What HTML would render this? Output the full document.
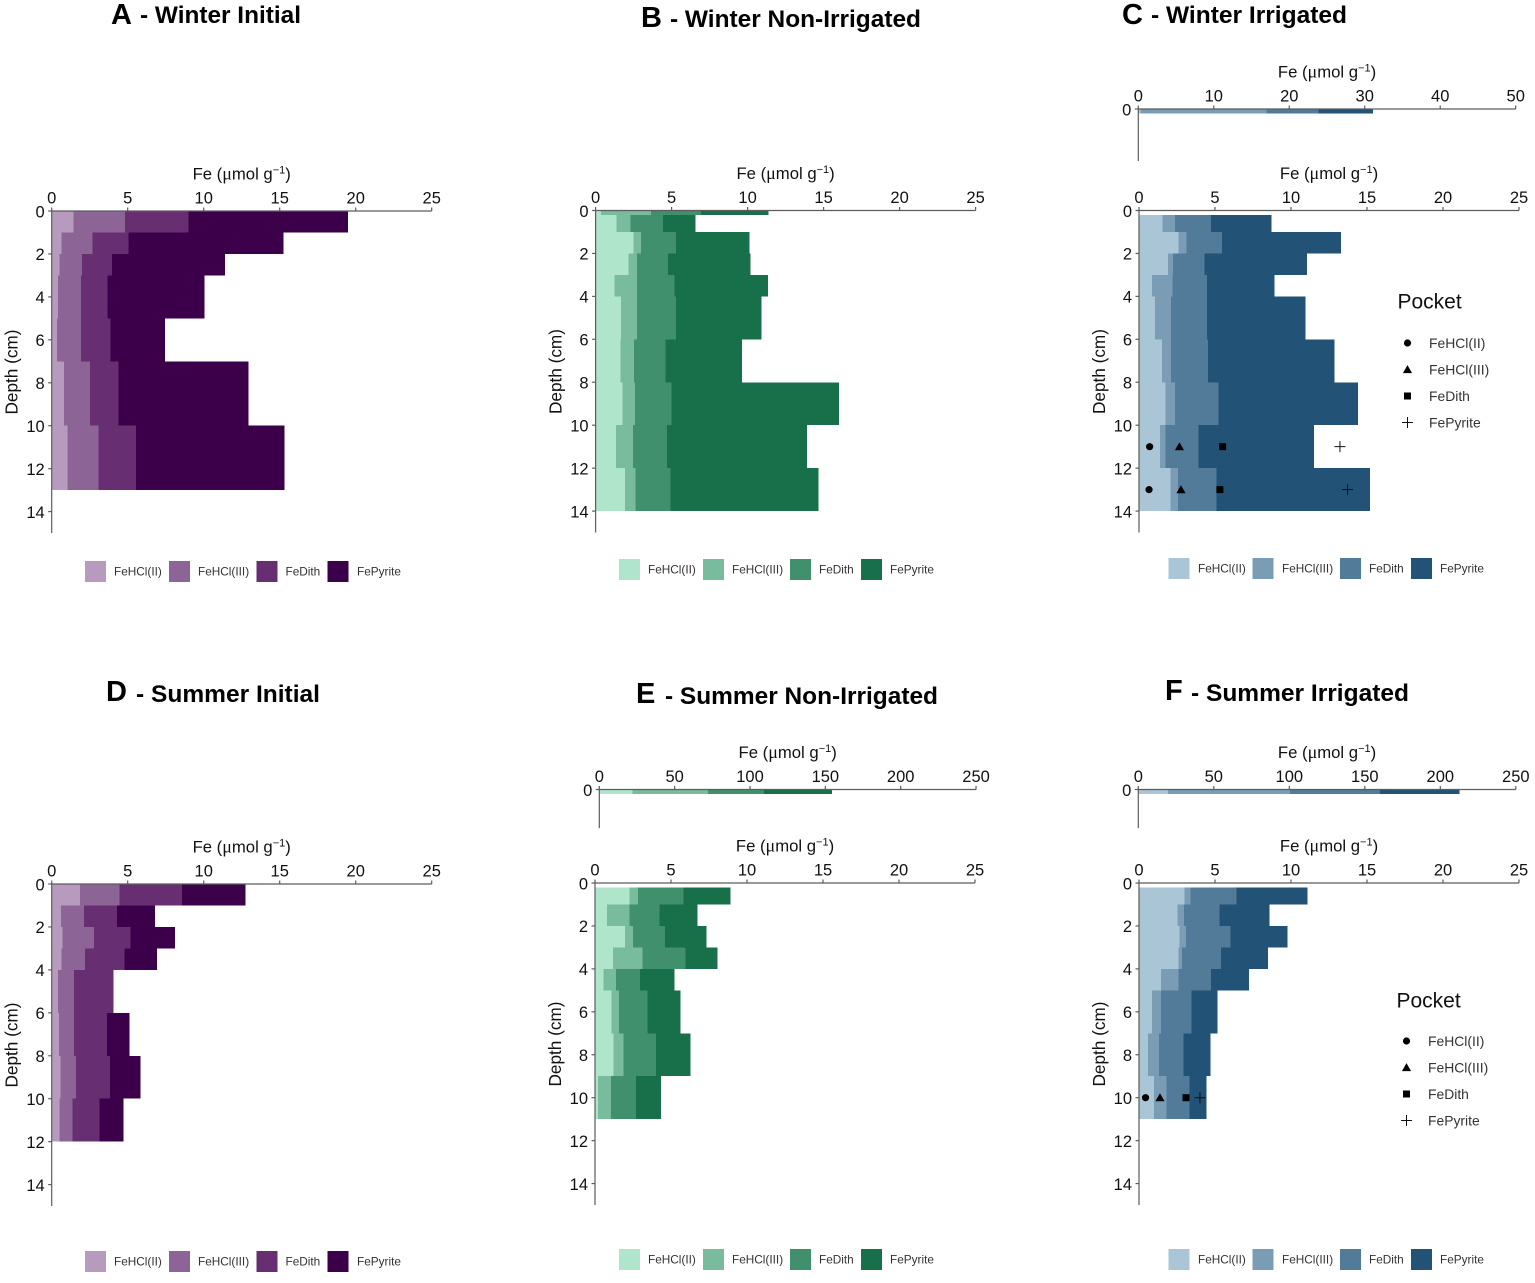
<!DOCTYPE html>
<html lang="en">
<head>
<meta charset="utf-8">
<title>Fe depth profiles</title>
<style>
html,body{margin:0;padding:0;background:#fff;}
svg{display:block;position:absolute;left:0;top:0;font-family:"Liberation Sans",Arial,sans-serif;}
.ttl{font-weight:700;fill:#000;}
</style>
</head>
<body>
<svg id="figure" xmlns="http://www.w3.org/2000/svg" width="1535" height="1283" viewBox="0 0 1535 1283">
  <rect x="0" y="0" width="1535" height="1283" fill="#ffffff"/>
  <g><text class="ttl" x="111" y="24" font-size="29">A</text><text class="ttl" x="140" y="23" font-size="24.5" textLength="161" lengthAdjust="spacingAndGlyphs">- Winter Initial</text></g>
  <g><text class="ttl" x="641" y="27" font-size="29">B</text><text class="ttl" x="670" y="27" font-size="24.5" textLength="251" lengthAdjust="spacingAndGlyphs">- Winter Non-Irrigated</text></g>
  <g><text class="ttl" x="1122" y="24" font-size="29">C</text><text class="ttl" x="1151" y="23" font-size="24.5" textLength="196" lengthAdjust="spacingAndGlyphs">- Winter Irrigated</text></g>
  <g><text class="ttl" x="106" y="701" font-size="29">D</text><text class="ttl" x="136" y="702" font-size="24.5" textLength="184" lengthAdjust="spacingAndGlyphs">- Summer Initial</text></g>
  <g><text class="ttl" x="636" y="703" font-size="29">E</text><text class="ttl" x="665" y="704" font-size="24.5" textLength="273" lengthAdjust="spacingAndGlyphs">- Summer Non-Irrigated</text></g>
  <g><text class="ttl" x="1165" y="700" font-size="29">F</text><text class="ttl" x="1191" y="701" font-size="24.5" textLength="218" lengthAdjust="spacingAndGlyphs">- Summer Irrigated</text></g>
</svg>
<script>
// ---------- shared labels ----------
const seriesLabels = ['FeHCl(II)', 'FeHCl(III)', 'FeDith', 'FePyrite'];
const xTicks25 = [0, 5, 10, 15, 20, 25];
const xTicks50 = [0, 10, 20, 30, 40, 50];
const xTicks250 = [0, 50, 100, 150, 200, 250];
const yTicksFull = [0, 2, 4, 6, 8, 10, 12, 14];
const yTicksInset = [0];

// ---------- panel A: Winter Initial ----------
const aDepths = [0, 1, 2, 3, 5, 7, 10, 13];
const aFeHClII = [1.43, 0.66, 0.5, 0.42, 0.35, 0.81, 1.05];
const aFeHClIII = [3.39, 2.02, 1.5, 1.51, 1.58, 1.71, 2.02];
const aFeDith = [4.19, 2.36, 1.97, 1.75, 1.95, 1.89, 2.46];
const aFePyrite = [10.49, 10.22, 7.43, 6.36, 3.58, 8.53, 9.8];

// ---------- panel B: Winter Non-Irrigated ----------
const bDepths = [0, 0.2, 1, 2, 3, 4, 6, 8, 10, 12, 14];
const bFeHClII = [0.35, 1.38, 2.48, 2.15, 1.23, 1.67, 1.65, 1.78, 1.34, 1.93];
const bFeHClIII = [3.29, 0.92, 0.52, 0.57, 1.49, 1.07, 0.87, 0.81, 1.12, 0.7];
const bFeDith = [3.3, 2.13, 2.29, 2.04, 2.48, 2.55, 2.07, 2.41, 2.24, 2.29];
const bFePyrite = [4.43, 2.15, 4.83, 5.44, 6.15, 5.64, 5.05, 11.0, 9.2, 9.74];

// ---------- panel C: Winter Irrigated ----------
const cInsetDepths = [0, 0.2];
const cInsetFeHClII = [0.3];
const cInsetFeHClIII = [16.7];
const cInsetFeDith = [6.9];
const cInsetFePyrite = [7.2];
const cDepths = [0.2, 1, 2, 3, 4, 6, 8, 10, 12, 14];
const cFeHClII = [1.54, 2.59, 1.91, 0.86, 1.05, 1.51, 1.73, 1.38, 2.08];
const cFeHClIII = [0.83, 0.52, 0.33, 1.33, 1.06, 0.6, 0.64, 0.37, 0.49];
const cFeDith = [2.37, 2.35, 2.08, 2.28, 2.36, 2.43, 2.87, 2.15, 2.54];
const cFePyrite = [3.99, 7.83, 6.73, 4.43, 6.49, 8.33, 9.17, 7.61, 10.09];
const cPocketDepths = [11, 13];
const cPocketFeHClII = [0.7, 0.66];
const cPocketFeHClIII = [2.66, 2.76];
const cPocketFeDith = [5.5, 5.32];
const cPocketFePyrite = [13.22, 13.72];

// ---------- panel D: Summer Initial ----------
const dDepths = [0, 1, 2, 3, 4, 6, 8, 10, 12];
const dFeHClII = [1.86, 0.61, 0.72, 0.66, 0.42, 0.48, 0.57, 0.5];
const dFeHClIII = [2.59, 1.5, 2.07, 1.53, 1.05, 0.99, 1.03, 0.86];
const dFeDith = [4.12, 2.19, 2.39, 2.61, 2.59, 2.17, 2.22, 1.8];
const dFePyrite = [4.19, 2.48, 2.93, 2.13, 0, 1.49, 2.01, 1.55];

// ---------- panel E: Summer Non-Irrigated ----------
const eInsetDepths = [0, 0.2];
const eInsetFeHClII = [21.9];
const eInsetFeHClIII = [50.2];
const eInsetFeDith = [37.2];
const eInsetFePyrite = [45.1];
const eDepths = [0.2, 1, 2, 3, 4, 5, 7, 9, 11];
const eFeHClII = [2.26, 0.79, 1.97, 1.18, 0.57, 1.1, 1.23, 0.2];
const eFeHClIII = [0.57, 1.49, 0.53, 1.93, 0.81, 0.48, 0.66, 0.85];
const eFeDith = [2.98, 1.95, 2.11, 2.85, 1.58, 1.88, 2.12, 1.65];
const eFePyrite = [3.12, 2.5, 2.74, 2.09, 2.26, 2.18, 2.26, 1.64];

// ---------- panel F: Summer Irrigated ----------
const fInsetDepths = [0, 0.2];
const fInsetFeHClII = [19.6];
const fInsetFeHClIII = [80.8];
const fInsetFeDith = [59.6];
const fInsetFePyrite = [52.6];
const fDepths = [0.2, 1, 2, 3, 4, 5, 7, 9, 11];
const fFeHClII = [2.98, 2.54, 2.68, 2.59, 1.45, 0.86, 0.59, 0.99];
const fFeHClIII = [0.42, 0.42, 0.41, 0.24, 1.16, 0.59, 0.73, 0.83];
const fFeDith = [3.03, 2.35, 2.94, 2.56, 2.13, 1.99, 1.6, 1.49];
const fFePyrite = [4.67, 3.26, 3.75, 3.1, 2.5, 1.71, 1.77, 1.12];
const fPocketDepths = [10];
const fPocketFeHClII = [0.43];
const fPocketFeHClIII = [1.38];
const fPocketFeDith = [3.09];
const fPocketFePyrite = [4.01];

// ---------- palettes ----------
const purples = ['#b79bbe', '#8c6496', '#672f72', '#3b0049'];
const greens = ['#afe5cb', '#79bb9d', '#41906d', '#18704a'];
const blues = ['#aac5d6', '#7a9db5', '#527b99', '#225376'];

const SVGNS = 'http://www.w3.org/2000/svg';
const root = document.getElementById('figure');
const AXIS = '#5c5c5c';
const INK = '#111111';

function node(parent, tag, attrs) {
  const el = document.createElementNS(SVGNS, tag);
  for (const k in attrs) el.setAttribute(k, attrs[k]);
  parent.appendChild(el);
  return el;
}

function drawBands(parent, xFn, yFn, depths, series, colors) {
  depths.slice(0, -1).forEach(function (top, i) {
    let left = 0;
    series.forEach(function (values, s) {
      const right = left + values[i];
      if (values[i] > 0) {
        const el = node(parent, 'rect', {
          x: xFn(left), y: yFn(top),
          width: xFn(right) - xFn(left),
          height: yFn(depths[i + 1]) - yFn(top),
          fill: colors[s],
          'shape-rendering': 'crispEdges'
        });
        
        
      }
      left = right;
    });
  });
}

function drawFeTitle(parent, cx, y) {
  const t = node(parent, 'text', { x: cx, y: y, 'text-anchor': 'middle', 'font-size': 16.7, fill: INK });
  
  
  const parts = [
    ['Fe (', {}],
    ['\u03BC', { 'font-family': '"Liberation Serif", serif', 'font-size': 18 }],
    ['mol g', {}],
    ['\u22121', { 'font-size': 11, dy: -6 }],
    [')', { dy: 6 }]
  ];
  parts.forEach(function (p) {
    const s = node(t, 'tspan', p[1]);
    s.textContent = p[0];
  });
}

function drawAxes(parent, xFn, yFn, xTicks, yTicks, yEnd, depthTitle) {
  const x0 = xFn(0), y0 = yFn(0);
  const last = xTicks[xTicks.length - 1];

  const xLine = node(parent, 'line', { x1: x0, y1: y0, x2: xFn(last), y2: y0, stroke: AXIS, 'stroke-width': 1.2 });
  
  
  const yLine = node(parent, 'line', { x1: x0, y1: y0, x2: x0, y2: yFn(yEnd), stroke: AXIS, 'stroke-width': 1.2 });
  
  

  xTicks.forEach(function (v) {
    const tick = node(parent, 'line', { x1: xFn(v), y1: y0 - 3.5, x2: xFn(v), y2: y0, stroke: AXIS, 'stroke-width': 1.2 });
    
    
    const label = node(parent, 'text', { x: xFn(v), y: y0 - 7.5, 'text-anchor': 'middle', 'font-size': 16.5, fill: INK });
    
    
    label.textContent = v;
  });
  yTicks.forEach(function (v) {
    const tick = node(parent, 'line', { x1: x0 - 3.5, y1: yFn(v), x2: x0, y2: yFn(v), stroke: AXIS, 'stroke-width': 1.2 });
    
    
    const label = node(parent, 'text', { x: x0 - 7, y: yFn(v) + 6.3, 'text-anchor': 'end', 'font-size': 16.5, fill: INK });
    
    
    label.textContent = v;
  });

  drawFeTitle(parent, (x0 + xFn(last)) / 2, y0 - 31.5);

  if (depthTitle) {
    const cx = x0 - 34, cy = yFn(7.5);
    const t = node(parent, 'text', { x: cx, y: cy, 'text-anchor': 'middle', 'font-size': 17.2, fill: INK, transform: 'rotate(-90 ' + cx + ' ' + cy + ')' });
    
    
    t.textContent = 'Depth (cm)';
  }
}

function drawMarker(parent, kind, x, y) {
  let el;
  if (kind === 0) {
    el = node(parent, 'circle', { cx: x, cy: y, r: 3.6, fill: '#000' });
  } else if (kind === 1) {
    el = node(parent, 'polygon', { points: (x - 4.6) + ',' + (y + 3.6) + ' ' + (x + 4.6) + ',' + (y + 3.6) + ' ' + x + ',' + (y - 4.4), fill: '#000' });
  } else if (kind === 2) {
    el = node(parent, 'rect', { x: x - 3.5, y: y - 3.5, width: 7, height: 7, fill: '#000' });
  } else {
    el = node(parent, 'path', { d: 'M' + (x - 5.5) + ' ' + y + 'H' + (x + 5.5) + 'M' + x + ' ' + (y - 5.5) + 'V' + (y + 5.5), stroke: '#111', 'stroke-width': 1, fill: 'none' });
  }
  
  
}

function drawPockets(parent, xFn, yFn, depths, series) {
  depths.forEach(function (d, i) {
    series.forEach(function (values, s) {
      drawMarker(parent, s, xFn(values[i]), yFn(d));
    });
  });
}

function drawSwatchLegend(parent, colors, swatchX, textX, cy) {
  const g = node(parent, 'g', {});
  
  
  seriesLabels.forEach(function (name, i) {
    const sw = node(g, 'rect', { x: swatchX[i], y: cy - 10.5, width: 21, height: 21, fill: colors[i] });
    
    
    const tx = node(g, 'text', { x: textX[i], y: cy + 4.2, 'font-size': 11.8, fill: '#333' });
    
    
    tx.textContent = name;
  });
}

function drawPocketLegend(parent, titleX, titleY, markerX, textX, rowY) {
  const g = node(parent, 'g', {});
  
  
  const title = node(g, 'text', { x: titleX, y: titleY, 'font-size': 21, fill: '#111' });
  
  
  title.textContent = 'Pocket';
  seriesLabels.forEach(function (name, i) {
    drawMarker(g, i, markerX, rowY[i]);
    const tx = node(g, 'text', { x: textX, y: rowY[i] + 5, 'font-size': 13.9, fill: '#333' });
    
    
    tx.textContent = name;
  });
}

function linear(origin, pxPerUnit) {
  return function (v) { return origin + v * pxPerUnit; };
}

function plot(name, x0, pxX, y0, pxY, xTicks, yTicks, yEnd, depths, series, colors, depthTitle) {
  const g = node(root, 'g', {});
  
  
  g.setAttribute('aria-label', name);
  const xFn = linear(x0, pxX), yFn = linear(y0, pxY);
  drawBands(g, xFn, yFn, depths, series, colors);
  drawAxes(g, xFn, yFn, xTicks, yTicks, yEnd, depthTitle);
  return { g: g, xFn: xFn, yFn: yFn };
}

const PX_X = 15.2, PX_Y = 21.47;

// A
plot('Winter Initial', 51.7, PX_X, 211, PX_Y, xTicks25, yTicksFull, 15, aDepths,
  [aFeHClII, aFeHClIII, aFeDith, aFePyrite], purples, true);
drawSwatchLegend(root, purples, [85, 169, 256.5, 327.5], [114, 198, 285.5, 357], 571.5);

// B
plot('Winter Non-Irrigated', 595.6, PX_X, 210.5, PX_Y, xTicks25, yTicksFull, 15, bDepths,
  [bFeHClII, bFeHClIII, bFeDith, bFePyrite], greens, true);
drawSwatchLegend(root, greens, [619, 703, 790, 861], [648, 732, 819, 890], 569.5);

// C
plot('Winter Irrigated inset', 1138.3, 7.548, 109, PX_Y, xTicks50, yTicksInset, 2.42, cInsetDepths,
  [cInsetFeHClII, cInsetFeHClIII, cInsetFeDith, cInsetFePyrite], blues, false);
const cMain = plot('Winter Irrigated', 1139, PX_X, 210.5, PX_Y, xTicks25, yTicksFull, 15, cDepths,
  [cFeHClII, cFeHClIII, cFeDith, cFePyrite], blues, true);
drawPockets(cMain.g, cMain.xFn, cMain.yFn, cPocketDepths,
  [cPocketFeHClII, cPocketFeHClIII, cPocketFeDith, cPocketFePyrite]);
drawSwatchLegend(root, blues, [1168.5, 1252.5, 1340, 1411], [1198, 1282, 1369, 1440], 568.5);
drawPocketLegend(root, 1397.5, 308.5, 1407.5, 1429, [343, 369.5, 396, 422.5]);

// D
plot('Summer Initial', 51.7, PX_X, 884, PX_Y, xTicks25, yTicksFull, 15, dDepths,
  [dFeHClII, dFeHClIII, dFeDith, dFePyrite], purples, true);
drawSwatchLegend(root, purples, [85, 169, 256.5, 327.5], [114, 198, 285.5, 357], 1261.5);

// E
plot('Summer Non-Irrigated inset', 599.3, 1.507, 789.5, PX_Y, xTicks250, yTicksInset, 1.8, eInsetDepths,
  [eInsetFeHClII, eInsetFeHClIII, eInsetFeDith, eInsetFePyrite], greens, false);
plot('Summer Non-Irrigated', 595, PX_X, 883, PX_Y, xTicks25, yTicksFull, 15, eDepths,
  [eFeHClII, eFeHClIII, eFeDith, eFePyrite], greens, true);
drawSwatchLegend(root, greens, [619, 703, 790, 861], [648, 732, 819, 890], 1259.5);

// F
plot('Summer Irrigated inset', 1138.3, 1.51, 789.5, PX_Y, xTicks250, yTicksInset, 1.8, fInsetDepths,
  [fInsetFeHClII, fInsetFeHClIII, fInsetFeDith, fInsetFePyrite], blues, false);
const fMain = plot('Summer Irrigated', 1139, PX_X, 883, PX_Y, xTicks25, yTicksFull, 15, fDepths,
  [fFeHClII, fFeHClIII, fFeDith, fFePyrite], blues, true);
drawPockets(fMain.g, fMain.xFn, fMain.yFn, fPocketDepths,
  [fPocketFeHClII, fPocketFeHClIII, fPocketFeDith, fPocketFePyrite]);
drawSwatchLegend(root, blues, [1168.5, 1252.5, 1340, 1411], [1198, 1282, 1369, 1440], 1259.5);
drawPocketLegend(root, 1396.5, 1007.5, 1406.5, 1428, [1041, 1067.5, 1094, 1120.5]);
</script>
</body>
</html>
